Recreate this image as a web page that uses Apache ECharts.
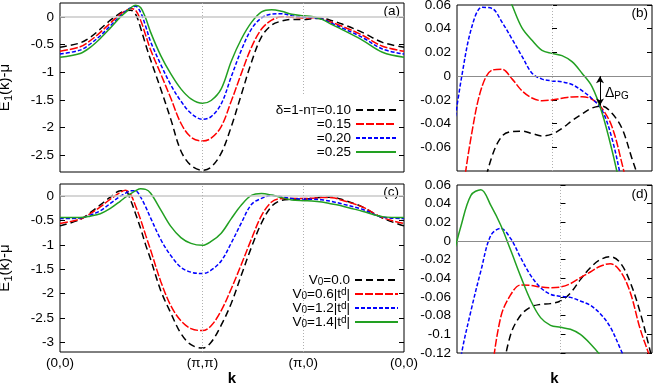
<!DOCTYPE html>
<html>
<head>
<meta charset="utf-8">
<title>E1(k)-mu dispersion</title>
<script src="https://cdn.jsdelivr.net/npm/echarts@6/dist/echarts.min.js"></script>
<style>
  html, body { margin: 0; padding: 0; background: #fff; }
  #main { width: 654px; height: 383px; }
</style>
</head>
<body>
<div id="main"></div>
<script>
// path (0,0) -> (pi,pi) -> (pi,0) -> (0,0), segment lengths sqrt2, 1, 1
const kPath = [0, 0.2, 0.3, 0.4, 0.5, 0.6, 0.65, 0.7, 0.75, 0.8, 0.85, 0.9, 1.0, 1.1, 1.2, 1.3, 1.4142,
  1.5, 1.6, 1.7, 1.8, 1.9, 2.0, 2.1, 2.2, 2.3, 2.4142, 2.5, 2.6, 2.7, 2.8, 3.0, 3.2, 3.4142]
const kTickPos = [0, 1.4142, 2.4142, 3.4142]
const kTickNames = ['(0,0)', '(\u03c0,\u03c0)', '(\u03c0,0)', '(0,0)']

// (a) doping delta = 0.10, 0.15, 0.20, 0.25
const eDop10 = [-0.55, -0.47, -0.37, -0.22, -0.06, 0.07, 0.11, 0.12, 0.05, -0.20, -0.50, -0.78, -1.30, -1.85, -2.42, -2.68, -2.77,
  -2.71, -2.46, -1.98, -1.40, -0.82, -0.36, -0.15, -0.075, -0.046, -0.049, -0.034, -0.03, -0.07, -0.13, -0.28, -0.46, -0.55]
const eDop15 = [-0.62, -0.54, -0.43, -0.28, -0.11, 0.05, 0.11, 0.15, 0.12, -0.06, -0.33, -0.60, -1.03, -1.47, -1.92, -2.17, -2.24,
  -2.19, -1.98, -1.52, -1.02, -0.55, -0.22, -0.06, 0.001, -0.009, -0.02, -0.017, -0.035, -0.10, -0.17, -0.33, -0.53, -0.62]
const eDop20 = [-0.67, -0.60, -0.49, -0.34, -0.16, 0.02, 0.10, 0.16, 0.19, 0.08, -0.17, -0.45, -0.86, -1.23, -1.52, -1.74, -1.85,
  -1.80, -1.57, -1.08, -0.60, -0.22, -0.02, 0.05, 0.057, 0.022, -0.004, -0.01, -0.04, -0.12, -0.20, -0.37, -0.58, -0.67]
const eDop25 = [-0.73, -0.66, -0.55, -0.39, -0.20, 0.0, 0.08, 0.16, 0.21, 0.17, -0.02, -0.28, -0.70, -1.03, -1.30, -1.48, -1.56,
  -1.51, -1.30, -0.80, -0.40, -0.10, 0.09, 0.13, 0.10, 0.045, 0.019, 0.007, -0.046, -0.14, -0.23, -0.42, -0.64, -0.73]

// (c) V0 = 0.0, 0.6, 1.2, 1.4 |t^d|
const eV00 = [-0.61, -0.48, -0.34, -0.18, -0.02, 0.11, 0.11, -0.08, -0.36, -0.66, -1.0, -1.30, -1.94, -2.40, -2.82, -3.05, -3.12,
  -3.0, -2.65, -2.2, -1.62, -1.05, -0.55, -0.21, -0.085, -0.068, -0.064, -0.045, -0.022, -0.021, -0.07, -0.22, -0.45, -0.61]
const eV06 = [-0.56, -0.47, -0.36, -0.22, -0.06, 0.08, 0.12, 0.04, -0.20, -0.48, -0.80, -1.11, -1.75, -2.25, -2.56, -2.72, -2.76,
  -2.66, -2.35, -1.90, -1.40, -0.88, -0.40, -0.12, -0.05, -0.049, -0.049, -0.041, -0.029, -0.030, -0.085, -0.22, -0.44, -0.56]
const eV12 = [-0.46, -0.45, -0.39, -0.30, -0.15, 0.0, 0.06, 0.11, 0.11, -0.02, -0.22, -0.45, -0.89, -1.22, -1.46, -1.56, -1.59,
  -1.52, -1.33, -0.96, -0.55, -0.17, -0.045, 0.013, -0.012, -0.046, -0.059, -0.063, -0.075, -0.11, -0.16, -0.27, -0.43, -0.46]
const eV14 = [-0.44, -0.44, -0.41, -0.36, -0.25, -0.10, -0.02, 0.05, 0.11, 0.15, 0.14, 0.06, -0.28, -0.62, -0.85, -0.97, -1.01,
  -0.93, -0.76, -0.46, -0.18, 0.015, 0.055, 0.022, -0.03, -0.077, -0.092, -0.098, -0.12, -0.16, -0.20, -0.31, -0.42, -0.44]

// (b) zoom around (pi,0), offset from (pi,0)
const dkB = [-1.0, -0.9, -0.8, -0.7, -0.6, -0.5, -0.4, -0.3, -0.2, -0.1, 0, 0.1, 0.2, 0.3, 0.4, 0.5, 0.6, 0.7, 0.8, 0.9, 1.0]
const zB10 = [-0.22, -0.18, -0.14, -0.10, -0.0676, -0.0506, -0.0467, -0.0464, -0.0484, -0.0504, -0.0489, -0.0441, -0.0376, -0.032,
  -0.0269, -0.0252, -0.0314, -0.0441, -0.0696, -0.095, -0.125]
const zB15 = [-0.2, -0.105, -0.047, -0.0088, 0.005, 0.0058, -0.0023, -0.0124, -0.0184, -0.0207, -0.0201, -0.0187, -0.0175, -0.0173,
  -0.0195, -0.0272, -0.0427, -0.0738, -0.11, -0.15, -0.19]
const zB20 = [-0.054, 0.0011, 0.0421, 0.058, 0.0571, 0.0455, 0.0314, 0.0167, 0.0025, -0.0025, -0.004, -0.0048, -0.0071, -0.0122,
  -0.019, -0.0286, -0.0526, -0.09, -0.13, -0.17, -0.21]
const zB25 = [0.13, 0.13, 0.125, 0.115, 0.1, 0.08, 0.06, 0.0407, 0.0303, 0.0218, 0.0192, 0.0173, 0.0122, 0.0025, -0.0088, -0.0308,
  -0.0625, -0.1, -0.14, -0.18, -0.22]
const gapPos = 0.48
const gapTop = 0
const gapBottom = -0.0248

// (d) zoom around (pi,0)
const dkD = [-1.1, -1.0, -0.9, -0.8, -0.7, -0.6, -0.5, -0.4, -0.3, -0.2, -0.1, 0, 0.1, 0.2, 0.3, 0.4, 0.5, 0.6, 0.7, 0.8, 0.9, 1.0]
const zD00 = [-0.55, -0.45, -0.36, -0.28, -0.21, -0.15, -0.10, -0.0796, -0.0707, -0.0679, -0.0671, -0.0643, -0.0557, -0.0414,
  -0.0286, -0.02, -0.0168, -0.0232, -0.0439, -0.0761, -0.117, -0.16]
const zD06 = [-0.55, -0.45, -0.35, -0.25, -0.15, -0.0814, -0.0575, -0.0471, -0.0475, -0.0493, -0.05, -0.0493, -0.0457, -0.0393,
  -0.0332, -0.0271, -0.0243, -0.0321, -0.0546, -0.0939, -0.125, -0.16]
const zD12 = [-0.2, -0.124, -0.075, -0.032, 0.006, 0.0135, 0.0025, -0.0179, -0.0368, -0.05, -0.0571, -0.0593, -0.0604, -0.0643,
  -0.0689, -0.0779, -0.0921, -0.115, -0.14, -0.17, -0.2, -0.23]
const zD14 = [-0.025, 0.016, 0.0489, 0.055, 0.0382, 0.0168, -0.01, -0.0379, -0.0636, -0.0821, -0.0904, -0.0925, -0.0946, -0.1,
  -0.11, -0.1225, -0.14, -0.16, -0.18, -0.2, -0.22, -0.24]

const yTicksA = [-2.5, -2, -1.5, -1, -0.5, 0]
const yTicksC = [-3, -2.5, -2, -1.5, -1, -0.5, 0]
const yTicksB = [-0.06, -0.04, -0.02, 0, 0.02, 0.04, 0.06]
const yTicksD = [-0.12, -0.1, -0.08, -0.06, -0.04, -0.02, 0, 0.02, 0.04, 0.06]

const dopingText = ['\u03b4=1-n{s|T}=0.10', '=0.15', '=0.20', '=0.25']
const potentialText = ['V{s|0}=0.0', 'V{s|0}=0.6|t{u|d}|', 'V{s|0}=1.2|t{u|d}|', 'V{s|0}=1.4|t{u|d}|']

const FONT = '"Liberation Sans", Arial, Helvetica, sans-serif'
const colors = ['#000000', '#ff0000', '#0000ff', '#22a022']
const dashes = [[7, 4], [8, 2], [4, 2], 'solid']
const richSub = {
  s: { fontSize: 10, lineHeight: 8, verticalAlign: 'bottom', fontFamily: FONT, color: '#000' },
  u: { fontSize: 10, lineHeight: 8, verticalAlign: 'top', fontFamily: FONT, color: '#000' }
}

function curve(name, xs, ys, idx, axis) {
  return {
    name: name,
    type: 'line',
    xAxisIndex: axis,
    yAxisIndex: axis,
    data: xs.map((x, i) => [x, ys[i]]),
    smooth: 0.35,
    symbol: 'none',
    clip: true,
    silent: true,
    z: 3,
    lineStyle: { color: colors[idx], width: 1.5, type: dashes[idx] },
    itemStyle: { color: colors[idx] }
  }
}

function guides(axis, lines) {
  return {
    type: 'line',
    xAxisIndex: axis,
    yAxisIndex: axis,
    data: [],
    silent: true,
    z: 1,
    markLine: { silent: true, symbol: 'none', label: { show: false }, animation: false, data: lines }
  }
}

function yAxis(grid, min, max, ticks, right, name) {
  return {
    type: 'value',
    gridIndex: grid,
    min: min,
    max: max,
    position: right ? 'right' : 'left',
    name: name || '',
    nameLocation: 'middle',
    nameGap: 46,
    nameRotate: 90,
    nameTextStyle: { fontSize: 15, fontFamily: FONT, color: '#000', lineHeight: 18, rich: { s: { fontSize: 11, lineHeight: 9, verticalAlign: 'bottom', fontFamily: FONT, color: '#000' } } },
    axisLine: { show: false },
    splitLine: { show: false },
    axisTick: { show: true, inside: true, length: 5, customValues: ticks, lineStyle: { color: '#000' } },
    axisLabel: { show: !right, customValues: ticks, margin: 6, fontSize: 13.5, color: '#000', fontFamily: FONT }
  }
}

function xAxis(grid, min, max, labelPos, name) {
  return {
    type: 'value',
    gridIndex: grid,
    min: min,
    max: max,
    name: name || '',
    nameLocation: 'middle',
    nameGap: 18,
    nameTextStyle: { fontSize: 15, fontWeight: 'bold', fontFamily: FONT, color: '#000' },
    axisLine: { show: false },
    splitLine: { show: false },
    axisTick: { show: false },
    axisLabel: {
      show: !!labelPos,
      customValues: labelPos || [],
      margin: 4,
      fontSize: 13.5,
      color: '#000',
      fontFamily: FONT,
      formatter: function (v) {
        const i = kTickPos.findIndex(p => Math.abs(p - v) < 1e-6)
        return i >= 0 ? kTickNames[i] : ''
      }
    }
  }
}

const zeroMain = { yAxis: 0, lineStyle: { color: '#c8c8c8', width: 1.5, type: 'solid' } }
const zeroZoom = { yAxis: 0, lineStyle: { color: '#8c8c8c', width: 1, type: 'solid' } }
const dotted = { color: '#b0b0b0', width: 1, type: [1, 2] }

function panel(left, top, width, height) {
  return { left: left, top: top, width: width, height: height, outerBoundsMode: 'none', containLabel: false, show: true, borderColor: '#000', borderWidth: 1 }
}

const legendBase = {
  orient: 'vertical', align: 'right', padding: 0, itemHeight: 8, itemGap: 0, selectedMode: false,
  itemStyle: { opacity: 0 },
  textStyle: { fontSize: 13.5, fontFamily: FONT, color: '#000', lineHeight: 14, rich: richSub }
}

const chart = echarts.init(document.getElementById('main'))
const option = {
  animation: false,
  backgroundColor: '#fff',
  textStyle: { fontFamily: FONT },
  grid: [
    panel(60, 3, 344, 169),
    panel(457, 5, 195, 166),
    panel(60, 184, 344, 168),
    panel(457, 185, 195, 168)
  ],
  xAxis: [
    xAxis(0, 0, 3.4142, null),
    xAxis(1, -0.95, 1.0, null),
    xAxis(2, 0, 3.4142, kTickPos, 'k'),
    xAxis(3, -1.04, 0.92, null, 'k')
  ],
  yAxis: [
    yAxis(0, -2.8, 0.25, yTicksA, false, 'E{s|1}(k)-\u03bc'),
    yAxis(1, -0.08, 0.06, yTicksB, false),
    yAxis(2, -3.2, 0.25, yTicksC, false, 'E{s|1}(k)-\u03bc'),
    yAxis(3, -0.12, 0.06, yTicksD, false),
    yAxis(0, -2.8, 0.25, yTicksA, true),
    yAxis(1, -0.08, 0.06, yTicksB, true),
    yAxis(2, -3.2, 0.25, yTicksC, true),
    yAxis(3, -0.12, 0.06, yTicksD, true)
  ],
  legend: [
    Object.assign({}, legendBase, {
      data: ['a0', 'a1', 'a2', 'a3'], right: 257, top: 103, itemWidth: 40,
      formatter: n => dopingText[+n.slice(1)]
    }),
    Object.assign({}, legendBase, {
      data: ['c0', 'c1', 'c2', 'c3'], right: 255, top: 273, itemWidth: 43,
      formatter: n => potentialText[+n.slice(1)]
    })
  ],
  graphic: [
    { type: 'text', x: 400, y: 11, style: { text: '(a)', align: 'right', verticalAlign: 'middle', fontSize: 13.5, fontFamily: FONT, fill: '#000' } },
    { type: 'text', x: 648, y: 13, style: { text: '(b)', align: 'right', verticalAlign: 'middle', fontSize: 13.5, fontFamily: FONT, fill: '#000' } },
    { type: 'text', x: 399, y: 192, style: { text: '(c)', align: 'right', verticalAlign: 'middle', fontSize: 13.5, fontFamily: FONT, fill: '#000' } },
    { type: 'text', x: 648, y: 194, style: { text: '(d)', align: 'right', verticalAlign: 'middle', fontSize: 13.5, fontFamily: FONT, fill: '#000' } }
  ],
  series: [
    guides(0, [zeroMain, { xAxis: 1.4142, lineStyle: dotted }, [{ coord: [2.4142, 0.25], lineStyle: dotted }, { coord: [2.4142, -1.41] }]]),
    guides(1, [zeroZoom, { xAxis: 0, lineStyle: dotted }]),
    guides(2, [zeroMain, { xAxis: 1.4142, lineStyle: dotted }, { xAxis: 2.4142, lineStyle: dotted }]),
    guides(3, [zeroZoom, { xAxis: 0, lineStyle: dotted }]),
    curve('a0', kPath, eDop10, 0, 0),
    curve('a1', kPath, eDop15, 1, 0),
    curve('a2', kPath, eDop20, 2, 0),
    curve('a3', kPath, eDop25, 3, 0),
    curve('b0', dkB, zB10, 0, 1),
    curve('b1', dkB, zB15, 1, 1),
    curve('b2', dkB, zB20, 2, 1),
    curve('b3', dkB, zB25, 3, 1),
    curve('c0', kPath, eV00, 0, 2),
    curve('c1', kPath, eV06, 1, 2),
    curve('c2', kPath, eV12, 2, 2),
    curve('c3', kPath, eV14, 3, 2),
    curve('d0', dkD, zD00, 0, 3),
    curve('d1', dkD, zD06, 1, 3),
    curve('d2', dkD, zD12, 2, 3),
    curve('d3', dkD, zD14, 3, 3),
    {
      // pseudogap arrow in (b)
      type: 'line',
      xAxisIndex: 1,
      yAxisIndex: 1,
      data: [],
      silent: true,
      z: 4,
      markLine: {
        silent: true,
        symbol: ['arrow', 'arrow'],
        symbolSize: [6, 7],
        label: { show: false },
        lineStyle: { color: '#000', width: 1, type: 'solid' },
        data: [[{ coord: [gapPos, gapTop] }, { coord: [gapPos, gapBottom] }]]
      },
      markPoint: {
        silent: true,
        symbol: 'circle',
        symbolSize: 0,
        data: [{ coord: [gapPos, (gapTop + gapBottom) / 2 - 0.002] }],
        label: {
          show: true, position: 'right', distance: 5, color: '#000',
          formatter: '{d|\u0394}{s|PG}',
          rich: {
            d: { fontSize: 14, fontFamily: FONT, color: '#000', lineHeight: 16 },
            s: { fontSize: 10, fontFamily: FONT, color: '#000', lineHeight: 8, verticalAlign: 'bottom' }
          }
        }
      }
    }
  ]
}
chart.setOption(option)
</script>
</body>
</html>
